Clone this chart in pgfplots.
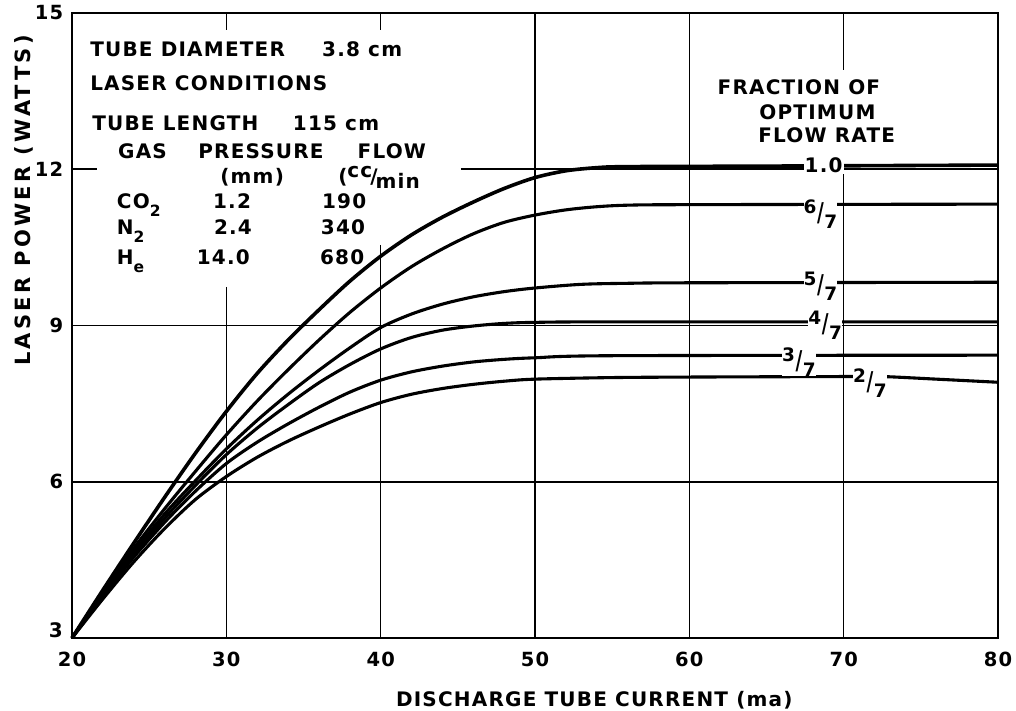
\documentclass[border=0pt]{standalone}
\usepackage{fontspec}
\setmainfont[LetterSpace=6,UprightFont={* Bold}]{DejaVu Sans}
\usepackage{graphicx}
\usepackage{pgfplots}
\pgfplotsset{compat=1.18}
\newcommand\fr[2]{{\fontsize{18.5}{20}\selectfont\raisebox{0.3em}{#1}\kern0.03em\raisebox{-0.12em}{\scalebox{1}[1.4]{/}}\kern0.03em\raisebox{-0.5em}{#2}}}
\newcommand\sub[1]{\raisebox{-0.4em}{\fontsize{15.5}{15.5}\selectfont #1}}
\begin{document}
\fontsize{20}{23}\selectfont
\begin{tikzpicture}
\path[use as bounding box] (-72pt,-73pt) rectangle (944pt,638pt);
\begin{axis}[
  at={(0,0)}, anchor=south west,
  width=926pt, height=625pt, scale only axis,
  xmin=20, xmax=80, ymin=3, ymax=15,
  xtick={20,30,...,80}, ytick={6,9,12,15},
  tick style={draw=none},
  axis line style={line width=2.4pt},
  ticklabel style={font=\fontsize{19.5}{22}\selectfont},
  /pgf/number format/assume math mode=true,
  xticklabel style={yshift=-7pt},
  yticklabel style={xshift=-2pt},
  clip=false,
]
% grid segments
\begin{scope}[line width=1.6pt]
\draw (axis cs:30,15) -- (axis cs:30,14.67);
\draw (axis cs:30,9.74) -- (axis cs:30,3);
\draw (axis cs:40,15) -- (axis cs:40,14.67);
\draw (axis cs:40,10.55) -- (axis cs:40,3);
\draw (axis cs:50,15) -- (axis cs:50,3);
\draw (axis cs:60,15) -- (axis cs:60,3);
\draw (axis cs:70,15) -- (axis cs:70,13.9);
\draw (axis cs:20,12) -- (axis cs:21.6,12);
\draw (axis cs:45.2,12) -- (axis cs:80,12);
\draw (axis cs:20,9) -- (axis cs:80,9);
\draw (axis cs:20,6) -- (axis cs:80,6);
\end{scope}
% 1.0
\addplot[smooth, line width=3.6pt] coordinates {(20,3) (22,3.92) (24,4.82) (26,5.7) (28,6.55) (30,7.35) (32,8.08) (34,8.72) (36,9.3) (38,9.85) (40,10.33) (42,10.74) (44,11.08) (46,11.37) (48,11.63) (50,11.84) (52,11.97) (54,12.03) (56,12.05) (65,12.06) (80,12.08)};
% 6/7
\addplot[smooth, line width=3.1pt] coordinates {(20,3) (22,3.88) (24,4.72) (26,5.48) (28,6.2) (30,6.9) (32,7.55) (34,8.15) (36,8.72) (38,9.25) (40,9.72) (42,10.13) (44,10.47) (46,10.76) (48,10.98) (50,11.12) (52,11.22) (54,11.28) (56,11.31) (60,11.32) (80,11.33)};
% 5/7
\addplot[smooth, line width=3.1pt] coordinates {(20,3) (22,3.85) (24,4.65) (26,5.38) (28,6.02) (30,6.63) (32,7.18) (34,7.68) (36,8.14) (38,8.57) (40,8.96) (42,9.22) (44,9.41) (46,9.55) (48,9.65) (50,9.72) (53,9.79) (56,9.81) (60,9.82) (80,9.83)};
% 4/7
\addplot[smooth, line width=3.1pt] coordinates {(20,3) (22,3.83) (24,4.6) (26,5.3) (28,5.93) (30,6.52) (32,7.03) (34,7.48) (36,7.9) (38,8.25) (40,8.55) (42,8.77) (44,8.91) (46,8.99) (48,9.04) (50,9.06) (55,9.07) (80,9.07)};
% 3/7
\addplot[smooth, line width=3.1pt] coordinates {(20,3) (22,3.8) (24,4.55) (26,5.22) (28,5.82) (30,6.35) (32,6.76) (34,7.11) (36,7.43) (38,7.72) (40,7.95) (42,8.11) (44,8.22) (46,8.3) (48,8.35) (50,8.38) (55,8.42) (80,8.43)};
% 2/7
\addplot[smooth, line width=3.1pt] coordinates {(20,3) (22,3.75) (24,4.46) (26,5.1) (28,5.66) (30,6.1) (32,6.47) (34,6.78) (36,7.05) (38,7.3) (40,7.52) (42,7.68) (44,7.79) (46,7.87) (48,7.93) (50,7.97) (55,8.0) (60,8.01) (70,8.02) (72.5,8.02) (76,7.97) (80,7.91)};
% curve labels
\node[fill=white, inner sep=1pt] at (axis cs:68.7,12.07) {1.0};
\node[fill=white, inner sep=0pt] at (axis cs:68.5,11.14) {\fr{6}{7}};
\node[fill=white, inner sep=0pt] at (axis cs:68.5,9.76) {\fr{5}{7}};
\node[fill=white, inner sep=0pt] at (axis cs:68.8,9.0) {\fr{4}{7}};
\node[fill=white, inner sep=0pt] at (axis cs:67.1,8.3) {\fr{3}{7}};
\node[fill=white, inner sep=0pt] at (axis cs:71.7,7.9) {\fr{2}{7}};
\draw[line width=1.6pt] (axis cs:70,11.9) -- (axis cs:70,3);
\node at (axis cs:67.1,13.58) {FRACTION OF};
\node at (axis cs:68.3,13.1) {OPTIMUM};
\node at (axis cs:68.9,12.66) {FLOW RATE};
% text block
\node[anchor=base west, inner sep=0pt] at (axis cs:21.17,14.17) {TUBE DIAMETER};
\node[anchor=base west, inner sep=0pt] at (axis cs:36.2,14.17) {3.8 cm};
\node[anchor=base west, inner sep=0pt] at (axis cs:21.17,13.52) {LASER CONDITIONS};
\node[anchor=base west, inner sep=0pt] at (axis cs:21.3,12.75) {TUBE LENGTH};
\node[anchor=base west, inner sep=0pt] at (axis cs:34.3,12.75) {115 cm};
\node[anchor=base west, inner sep=0pt] at (axis cs:22.98,12.2) {GAS};
\node[anchor=base west, inner sep=0pt] at (axis cs:28.17,12.2) {PRESSURE};
\node[anchor=base west, inner sep=0pt] at (axis cs:38.5,12.2) {FLOW};
\node[anchor=base west, inner sep=0pt] at (axis cs:29.6,11.72) {(mm)};
\node[anchor=base west, inner sep=0pt] at (axis cs:37.24,11.72) {(\raisebox{0.3em}{cc}\kern-0.1em/\kern-0.1em\raisebox{-0.25em}{min}};
\node[anchor=base west, inner sep=0pt] at (axis cs:22.9,11.24) {CO\sub{2}};
\node[anchor=base, inner sep=0pt] at (axis cs:30.37,11.24) {1.2};
\node[anchor=base, inner sep=0pt] at (axis cs:37.63,11.24) {190};
\node[anchor=base west, inner sep=0pt] at (axis cs:22.9,10.74) {N\sub{2}};
\node[anchor=base, inner sep=0pt] at (axis cs:30.43,10.74) {2.4};
\node[anchor=base, inner sep=0pt] at (axis cs:37.56,10.74) {340};
\node[anchor=base west, inner sep=0pt] at (axis cs:22.9,10.17) {H\sub{e}};
\node[anchor=base, inner sep=0pt] at (axis cs:29.8,10.17) {14.0};
\node[anchor=base, inner sep=0pt] at (axis cs:37.5,10.17) {680};
% axis labels
\node[anchor=south east, inner sep=0pt, xshift=-9pt] at (rel axis cs:0,0) {3};
\node[rotate=90, font=\fontsize{21}{24}\selectfont\addfontfeatures{LetterSpace=16}] at ([xshift=-48pt]rel axis cs:0,0.70) {LASER POWER (WATTS)};
\node at ([yshift=-62pt]rel axis cs:0.564,0) {DISCHARGE TUBE CURRENT (ma)};
\end{axis}
\end{tikzpicture}
\end{document}
